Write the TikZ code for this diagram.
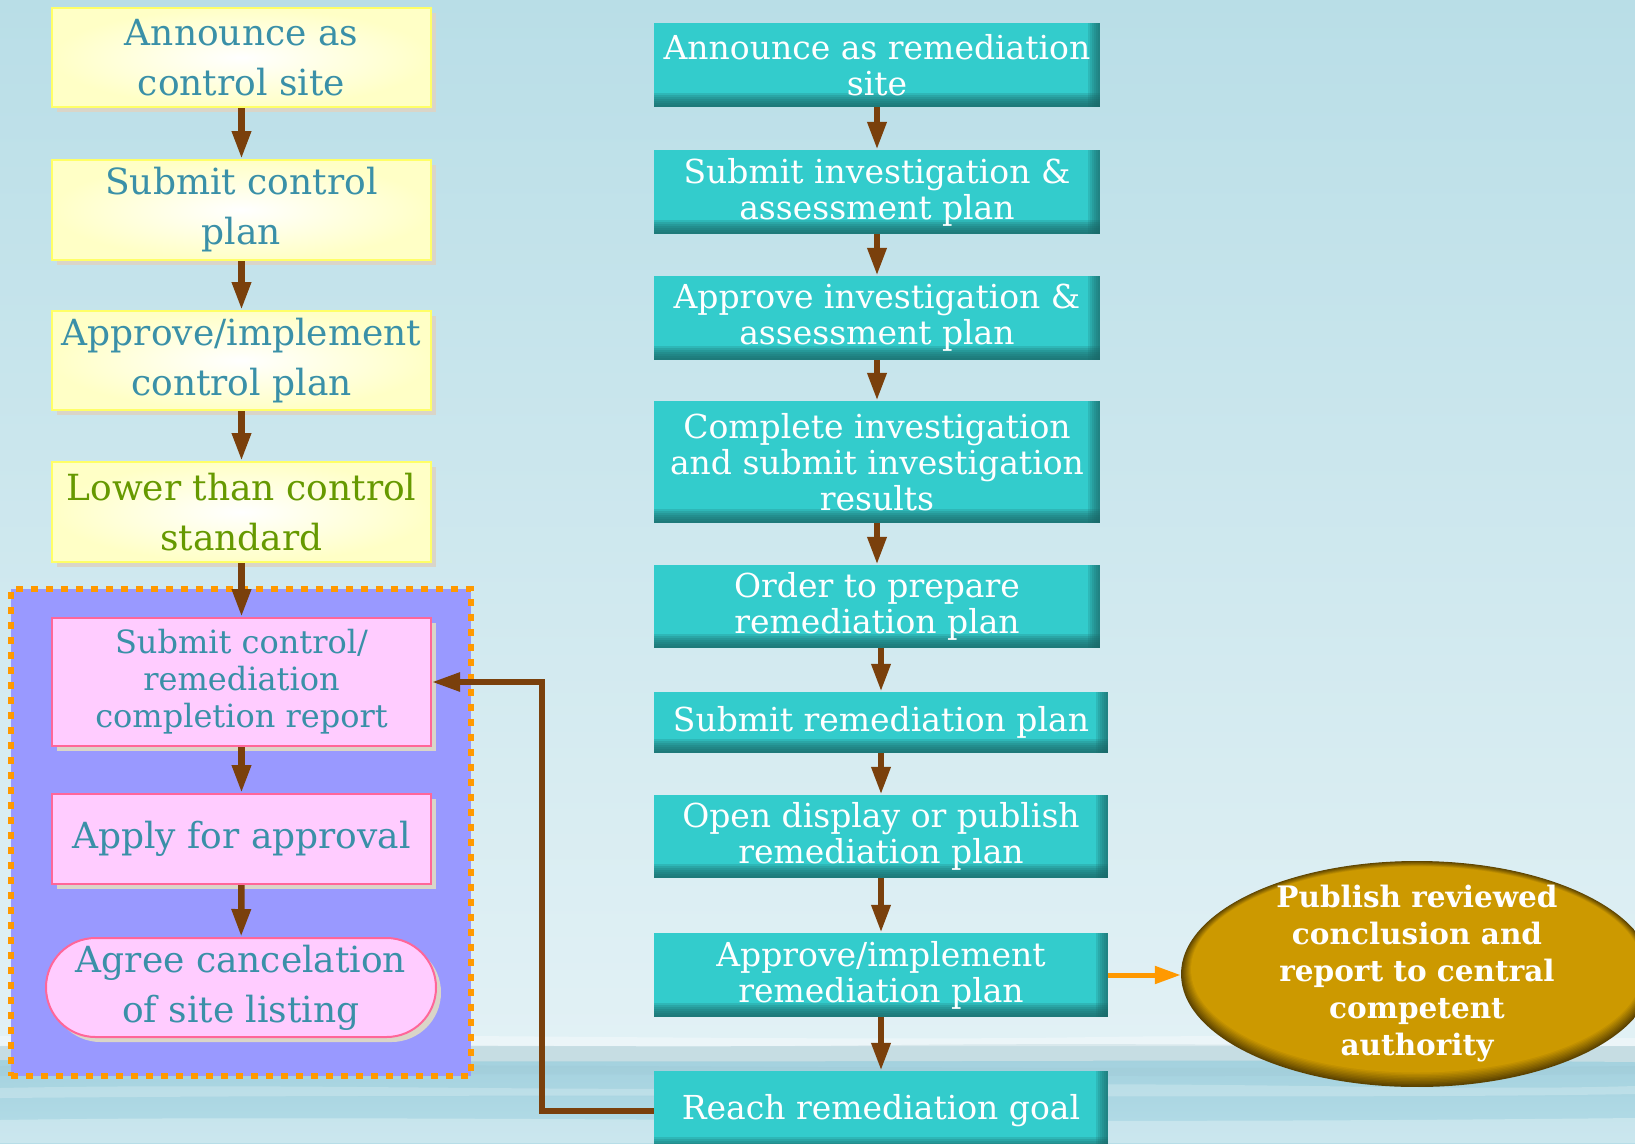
\documentclass[tikz,border=0pt]{standalone}
\usepackage{fontspec}
\setmainfont{DejaVu Serif}
\usetikzlibrary{arrows.meta,shapes.geometric,shapes.misc,shadows}

\definecolor{bgtop}{HTML}{B9DEE7}
\definecolor{bgmid}{HTML}{E2F1F5}
\definecolor{seaA}{HTML}{A2D0DD}
\definecolor{seaB}{HTML}{B5DDE8}
\definecolor{haze}{HTML}{C6DDE3}
\definecolor{yelfill}{HTML}{FFFFC6}
\definecolor{yelline}{HTML}{FFFF66}
\definecolor{shade}{HTML}{DAD5C8}
\definecolor{txteal}{HTML}{3A90A8}
\definecolor{txgreen}{HTML}{669900}
\definecolor{pinkfill}{HTML}{FFCCFF}
\definecolor{pinkline}{HTML}{FF6699}
\definecolor{groupfill}{HTML}{9999FF}
\definecolor{orangec}{HTML}{FF9900}
\definecolor{brownc}{HTML}{7A400C}
\definecolor{tealc}{HTML}{33CCCC}
\definecolor{tealdk}{HTML}{1A6666}
\definecolor{gold}{HTML}{CC9900}
\definecolor{golddk}{HTML}{5C4300}

\tikzset{
  boxshadow/.style={drop shadow={shadow xshift=5pt, shadow yshift=-5pt, fill=shade, opacity=1}},
  yelbox/.style={rectangle, draw=yelline, line width=2pt, inner color=white, outer color=yelfill,
    minimum width=379, text=txteal, align=center, inner sep=0pt,
    font=\fontsize{36}{50}\selectfont, boxshadow},
  pinkbox/.style={rectangle, draw=pinkline, line width=2pt, fill=pinkfill,
    minimum width=379, text=txteal, align=center, inner sep=0pt, boxshadow},
  tealbox/.style={rectangle, fill=tealc, text=white, align=center, inner sep=0pt,
    font=\fontsize{33}{36}\selectfont,
    path picture={
      \foreach \h in {2,4,...,14}{
        \fill[tealdk, opacity=0.2]
          ([yshift=\h pt]path picture bounding box.south west) rectangle (path picture bounding box.south east);
      }
      \foreach \w in {2,4,...,12}{
        \fill[tealdk, opacity=0.18]
          ([xshift=-\w pt]path picture bounding box.north east) rectangle (path picture bounding box.south east);
      }
    }},
  groupbox/.style={rectangle, fill=groupfill, draw=orangec, line width=6pt,
    dash pattern=on 7pt off 8pt, inner sep=0pt},
  goldtext/.style={text=white, align=center, inner sep=0pt,
    font=\bfseries\fontsize{29.5}{37}\selectfont},
  goldoval/.style={ellipse, inner sep=0pt,
    path picture={
      \fill[golddk] (path picture bounding box.south west) rectangle (path picture bounding box.north east);
      \foreach \k in {1,...,10}{
        \pgfmathsetmacro\rx{236-1.0*\k}
        \pgfmathsetmacro\ry{113-1.0*\k}
        \pgfmathsetmacro\dy{0.45*\k}
        \pgfmathtruncatemacro\pc{10*\k}
        \fill[gold!\pc!golddk] ([yshift=\dy pt]path picture bounding box.center)
          ellipse [x radius=\rx pt, y radius=\ry pt];
      }
    }},
  arr/.style={draw=brownc, line width=6.5pt, -{Triangle[length=28pt,width=18pt]}},
  oarr/.style={draw=orangec, line width=5pt, -{Triangle[length=26pt,width=17pt]}},
}

\begin{document}
\begin{tikzpicture}[x=1pt,y=-1pt]
\useasboundingbox (0,0) rectangle (1635,1143);
\clip (0,0) rectangle (1635,1143);

% sky and sea
\fill[top color=bgtop, bottom color=bgmid] (0,0) rectangle (1635,1052);
\fill[top color=seaA, bottom color=seaB] (0,1050) rectangle (1635,1143);
\fill[haze] (0,1046) .. controls (300,1042) and (600,1049) .. (900,1045)
  .. controls (1200,1042) and (1400,1048) .. (1635,1046) -- (1635,1062)
  .. controls (1200,1058) and (800,1064) .. (0,1060) -- cycle;
\fill[white, opacity=0.35] (0,1036) .. controls (400,1032) and (800,1042) .. (1100,1037)
  .. controls (1300,1034) and (1500,1040) .. (1635,1038) -- (1635,1046) -- (0,1046) -- cycle;
\fill[white, opacity=0.22] (0,1088) .. controls (300,1082) and (600,1094) .. (900,1086)
  .. controls (1200,1080) and (1450,1092) .. (1635,1086) -- (1635,1094)
  .. controls (1300,1100) and (700,1092) .. (0,1098) -- cycle;
\fill[white, opacity=0.3] (0,1120) .. controls (400,1114) and (900,1126) .. (1635,1118)
  -- (1635,1143) -- (0,1143) -- cycle;
\fill[seaA!85!black, opacity=0.10] (0,1066) .. controls (500,1062) and (1000,1072) .. (1635,1066)
  -- (1635,1074) .. controls (1000,1080) and (500,1070) .. (0,1076) -- cycle;

% left column: control site path
\node[groupbox, minimum width=460, minimum height=487] (group) at (241,832.5) {};

\node[yelbox, minimum height=99]  (y1) at (241.5,57.5) {Announce as\\control site};
\node[yelbox, minimum height=100] (y2) at (241.5,210)  {Submit control\\plan};
\node[yelbox, minimum height=99]  (y3) at (241.5,360.5) {Approve/implement\\control plan};
\node[yelbox, minimum height=100, text=txgreen] (y4) at (241.5,512) {Lower than control\\standard};

\node[pinkbox, minimum height=128, font=\fontsize{32}{37}\selectfont] (p1) at (241.5,682)
  {Submit control/\\remediation\\completion report};
\node[pinkbox, minimum height=90, font=\fontsize{36}{48}\selectfont] (p2) at (241.5,839)
  {Apply for approval};
\node[pinkbox, rounded rectangle, minimum width=390, minimum height=99,
  font=\fontsize{36}{50}\selectfont] (p3) at (241,987.5) {Agree cancelation\\of site listing};

% right column: remediation site path
\node[tealbox, minimum width=446, minimum height=84]  (r1) at (877,65)    {Announce as remediation\\site};
\node[tealbox, minimum width=446, minimum height=84]  (r2) at (877,192)   {Submit investigation \&\\assessment plan};
\node[tealbox, minimum width=446, minimum height=84]  (r3) at (877,318)   {Approve investigation \&\\assessment plan};
\node[tealbox, minimum width=446, minimum height=122] (r4) at (877,462)   {Complete investigation\\and submit investigation\\results};
\node[tealbox, minimum width=446, minimum height=83]  (r5) at (877,606.5) {Order to prepare\\remediation plan};
\node[tealbox, minimum width=454, minimum height=61]  (r6) at (881,722.5) {Submit remediation plan};
\node[tealbox, minimum width=454, minimum height=83]  (r7) at (881,836.5) {Open display or publish\\remediation plan};
\node[tealbox, minimum width=454, minimum height=84]  (r8) at (881,975)   {Approve/implement\\remediation plan};
\node[tealbox, minimum width=454, minimum height=80]  (r9) at (881,1111)  {Reach remediation goal};

\node[goldoval, minimum width=472, minimum height=226,
  label={[name=pubtext, goldtext]center:{Publish reviewed\\conclusion and\\report to central\\competent\\authority}}]
  (pub) at (1417,974) {};

% connectors
\draw[arr] (y1) -- (y2);
\draw[arr] (y2) -- (y3);
\draw[arr] (y3) -- (y4);
\draw[arr] (y4) -- (p1);
\draw[arr] (p1) -- (p2);
\draw[arr] (p2) -- (p3);

\draw[arr] (r1) -- (r2);
\draw[arr] (r2) -- (r3);
\draw[arr] (r3) -- (r4);
\draw[arr] (r4) -- (r5);
\draw[arr] (r5.south -| r6) -- (r6);
\draw[arr] (r6) -- (r7);
\draw[arr] (r7) -- (r8);
\draw[arr] (r8) -- (r9);

\draw[oarr] (r8.east) -- (r8.east -| pub.west);

\coordinate (bend) at (542,682);
\draw[arr, line width=5.5pt, line join=miter] (r9.west) -| (bend) -- (p1.east);
\end{tikzpicture}
\end{document}
